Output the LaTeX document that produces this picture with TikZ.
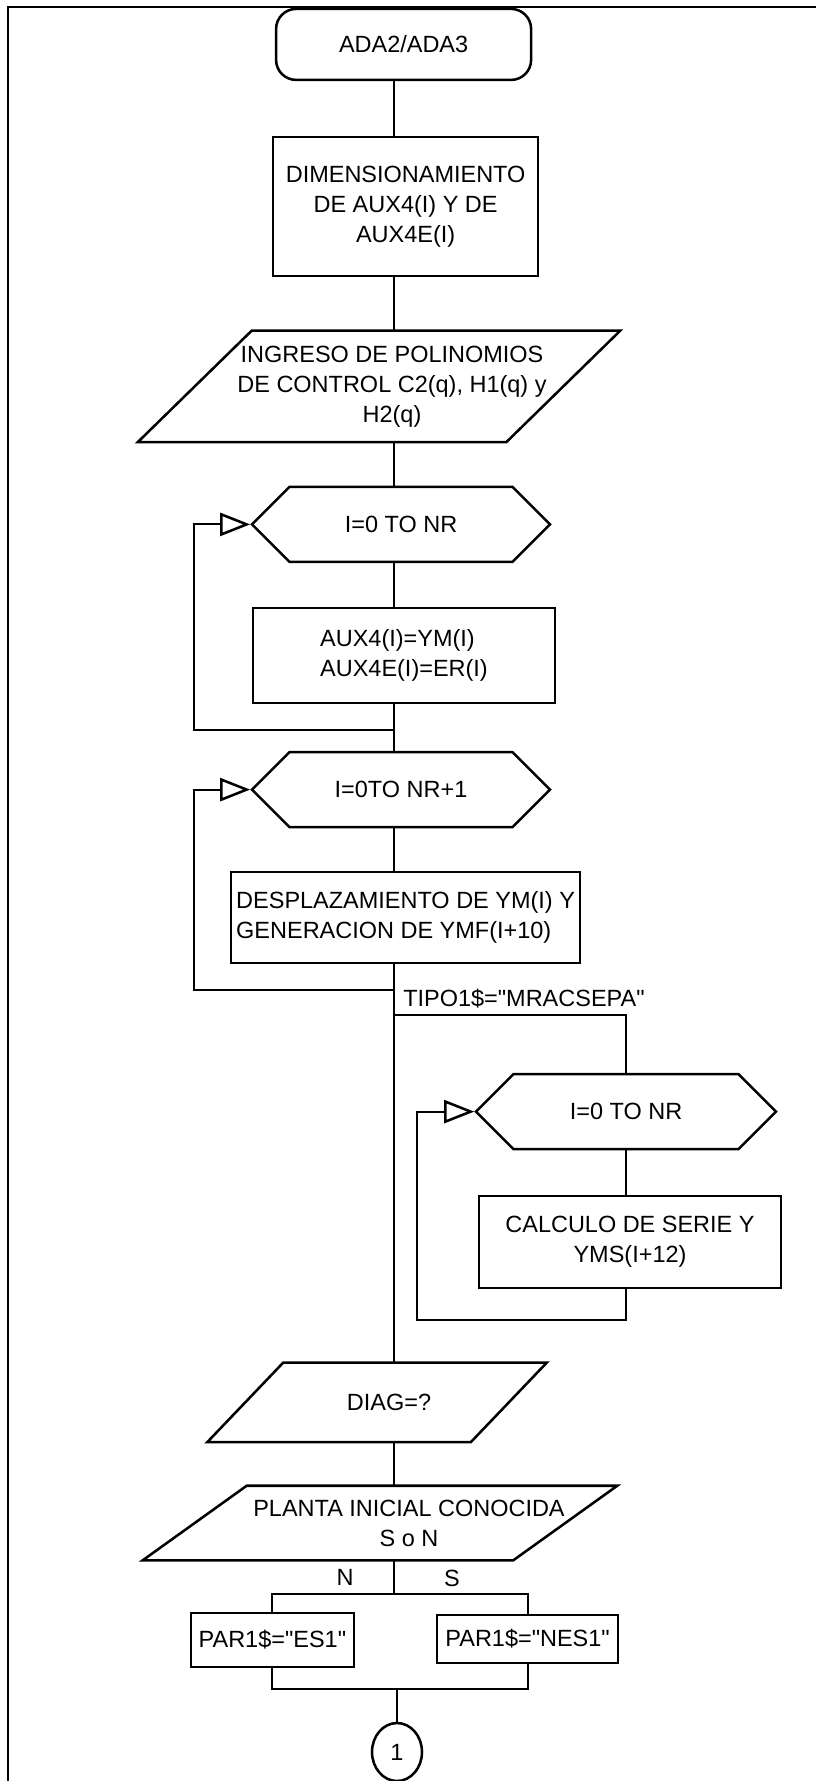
\documentclass[tikz,border=0pt]{standalone}
\usepackage{fontspec}
\setmainfont{Liberation Sans}
\usetikzlibrary{arrows.meta,shapes.geometric,shapes.symbols}

\newcommand{\chartfont}{\fontsize{16.7}{21.3}\selectfont}

\begin{document}
\begin{tikzpicture}[x=1cm,y=1cm]
\tikzset{
  chartnode/.style={draw=black,line width=1.8pt,font=\chartfont,inner sep=2pt,align=center},
  startnode/.style={chartnode,rectangle,rounded corners=5mm,minimum width=6.375cm,minimum height=1.775cm},
  procnode/.style={chartnode,rectangle},
  iotext/.style={rectangle,font=\chartfont,inner sep=0pt,align=center},
  ioline/.style={draw=black,line width=1.8pt,line join=miter},
  loopnode/.style={chartnode,signal,signal to=west and east,signal pointer angle=90,minimum width=7.45cm,minimum height=1.875cm},
  connnode/.style={chartnode,ellipse,minimum width=1.25cm,minimum height=1.45cm,inner sep=0pt},
  flowline/.style={draw=black,line width=1.3pt},
  backline/.style={flowline,-{Triangle[open,length=7.5mm,width=5.75mm,line width=1.8pt]}},
  textlabel/.style={font=\chartfont,inner sep=0pt}
}
\useasboundingbox (0,0) rectangle (20.4,-44.525);

% page frame
\draw[line width=1.6pt] (20.4,-0.175) -- (0.2,-0.175) -- (0.2,-44.525);

% main column
\coordinate (axis) at (9.86,0);
\node[startnode] (start) at (10.09,-1.11) {ADA2/ADA3};
\node[procnode,minimum width=6.625cm,minimum height=3.475cm] (dim) at (10.14,-5.16) {DIMENSIONAMIENTO\\DE AUX4(I) Y DE\\AUX4E(I)};
\node[iotext,minimum width=9.2cm,minimum height=2.775cm] (poly) at (9.475,-9.66) {\hspace*{0.65cm}INGRESO DE POLINOMIOS\\\hspace*{0.65cm}DE CONTROL C2(q), H1(q) y\\\hspace*{0.65cm}H2(q)};
\draw[ioline] ([xshift=1.425cm]poly.north west) -- ([xshift=1.425cm]poly.north east) -- ([xshift=-1.425cm]poly.south east) -- ([xshift=-1.425cm]poly.south west) -- cycle;
\node[loopnode] (forA) at (10.025,-13.11) {I=0 TO NR};
\node[procnode,align=left,minimum width=7.55cm,minimum height=2.375cm] (copy) at (10.1,-16.39) {AUX4(I)=YM(I)\\AUX4E(I)=ER(I)};
\node[loopnode] (forB) at (10.025,-19.74) {I=0TO NR+1};
\node[procnode,align=left,minimum width=8.725cm,minimum height=2.275cm] (shift) at (10.14,-22.94) {DESPLAZAMIENTO DE YM(I) Y\\GENERACION DE YMF(I+10)};

% right branch
\node[loopnode,minimum width=7.5cm] (forC) at (15.65,-27.79) {I=0 TO NR};
\node[procnode,minimum width=7.55cm,minimum height=2.3cm] (serie) at (15.75,-31.05) {CALCULO DE SERIE Y\\YMS(I+12)};

% lower part
\node[iotext,minimum width=6.575cm,minimum height=1.975cm] (diag) at (9.425,-35.06) {\hspace*{0.6cm}DIAG=?};
\draw[ioline] ([xshift=0.95cm]diag.north west) -- ([xshift=0.95cm]diag.north east) -- ([xshift=-0.95cm]diag.south east) -- ([xshift=-0.95cm]diag.south west) -- cycle;
\node[iotext,minimum width=9.25cm,minimum height=1.85cm] (plant) at (9.5,-38.075) {\hspace*{1.45cm}PLANTA INICIAL CONOCIDA\\\hspace*{1.45cm}S o N};
\draw[ioline] ([xshift=1.3cm]plant.north west) -- ([xshift=1.3cm]plant.north east) -- ([xshift=-1.3cm]plant.south east) -- ([xshift=-1.3cm]plant.south west) -- cycle;
\node[procnode,minimum width=4.075cm,minimum height=1.35cm] (parN) at (6.81,-41.0) {PAR1\$=\textquotedbl ES1\textquotedbl};
\node[procnode,minimum width=4.525cm,minimum height=1.2cm] (parS) at (13.19,-40.975) {PAR1\$=\textquotedbl NES1\textquotedbl};
\node[connnode] (link) at (9.925,-43.8) {1};

% labels
\node[textlabel,anchor=west] (tipo) at (10.075,-24.975) {TIPO1\$=\textquotedbl MRACSEPA\textquotedbl};
\node[textlabel] (lblN) at (8.625,-39.425) {N};
\node[textlabel] (lblS) at (11.3,-39.45) {S};

% bends
\coordinate (backA) at (4.85,-18.25);
\coordinate (backB) at (4.85,-24.75);
\coordinate (split) at (9.86,-25.375);
\coordinate (backC) at (10.425,-33.0);
\coordinate (fork) at (9.86,-39.85);
\coordinate (merge) at (9.86,-42.225);

\draw[flowline] (start.south -| axis) -- (dim.north -| axis);
\draw[flowline] (dim.south -| axis) -- (poly.north -| axis);
\draw[flowline] (poly.south -| axis) -- (forA.north -| axis);
\draw[flowline] (forA.south -| axis) -- (copy.north -| axis);
\draw[flowline] (copy.south -| axis) -- (forB.north -| axis);
\draw[backline] (copy.south -| axis) |- (backA) |- (forA.west);
\draw[flowline] (forB.south -| axis) -- (shift.north -| axis);
\draw[backline] (shift.south -| axis) |- (backB) |- (forB.west);
\draw[flowline] (shift.south -| axis) -- (diag.north -| axis);
\draw[flowline] (split) -| (forC.north);
\draw[flowline] (forC.south) -- (forC.south |- serie.north);
\draw[backline] (serie.south -| forC.south) |- (backC) |- (forC.west);
\draw[flowline] (diag.south -| axis) -- (plant.north -| axis);
\draw[flowline] (plant.south -| axis) -- (fork);
\draw[flowline] (parN.north) |- (fork) -| (parS.north);
\draw[flowline] (parN.south) |- (merge) -| (parS.south);
\draw[flowline] (merge -| link) -- (link.north);
\end{tikzpicture}
\end{document}
